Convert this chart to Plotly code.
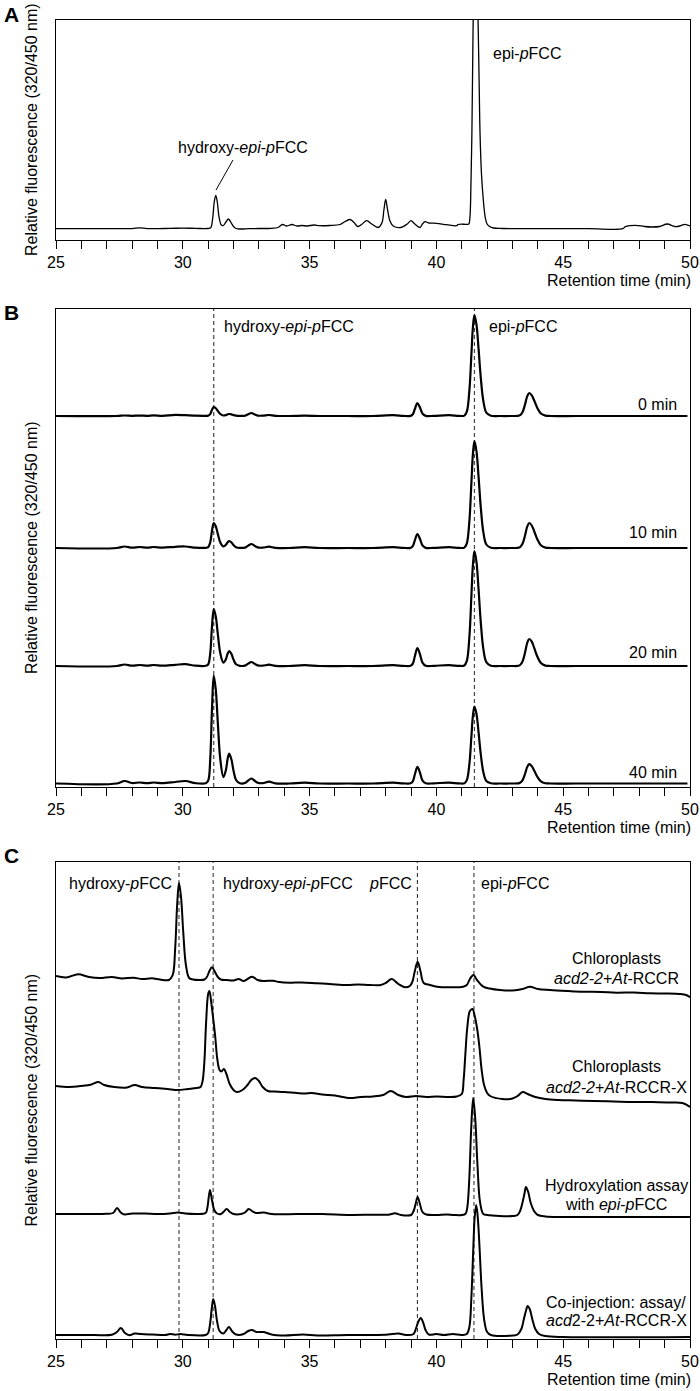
import plotly.graph_objects as go

# ---------------- DATA ----------------
# Panel A: single chromatogram, (retention time [min], relative fluorescence)
A_points = [
    (25.0, 11.3), (26.0, 11.3), (27.0, 11.4), (28.0, 11.4), (28.3, 12.2), (28.6, 11.4),
    (29.5, 11.6), (30.0, 11.9), (30.5, 11.6), (31.0, 11.5), (31.1, 12.3), (31.18, 22),
    (31.24, 38), (31.3, 44.5), (31.36, 38), (31.43, 23), (31.52, 15), (31.6, 14.5),
    (31.7, 18), (31.8, 21), (31.9, 17.5), (32.0, 13.5), (32.1, 11.5), (32.3, 11.0),
    (32.6, 11.4), (33.0, 11.5), (33.5, 11.7), (33.75, 12.5), (33.93, 15.5), (34.1, 14),
    (34.3, 15.5), (34.5, 14), (34.7, 14.5), (34.9, 14), (35.17, 15), (35.4, 14.3),
    (35.8, 14.5), (36.2, 15.5), (36.4, 18.5), (36.6, 20.5), (36.75, 17.5), (36.9, 13.5),
    (37.05, 15.5), (37.25, 19.3), (37.45, 16), (37.7, 12.5), (37.85, 17), (37.93, 30),
    (38.0, 40.5), (38.07, 31), (38.17, 19), (38.3, 14), (38.6, 12.5), (38.85, 16),
    (39.0, 19.3), (39.15, 16), (39.35, 12.5), (39.45, 16), (39.55, 18.3), (39.7, 17),
    (40.0, 16.7), (40.4, 15.3), (40.8, 14.3), (40.85, 15.5), (41.2, 15.7), (41.28, 16),
    (41.32, 22), (41.35, 40), (41.4, 107), (41.45, 220), (41.5, 290), (41.56, 310),
    (41.6, 270), (41.65, 210), (41.69, 150), (41.72, 107), (41.78, 65), (41.85, 40),
    (41.93, 22), (42.0, 16), (42.1, 13.5), (42.25, 12), (42.6, 11.5), (44.0, 11.3),
    (46.0, 11.3), (47.35, 11.3), (47.45, 13.3), (47.85, 14.7), (48.2, 13.5), (48.5, 13.0),
    (48.8, 13.5), (49.1, 16), (49.4, 13.5), (49.6, 14), (49.8, 15.7), (50.0, 14),
]

# Panel B: four time points sampled on a shared retention-time grid
B_time = [
    25.0, 27.4, 27.7, 28.0, 28.3, 28.6, 28.85, 29.2, 29.7, 30.1,
    30.5, 30.9, 31.0, 31.08, 31.15, 31.22, 31.3, 31.38, 31.48, 31.6,
    31.7, 31.77, 31.83, 31.92, 32.0, 32.1, 32.25, 32.45, 32.58, 32.7,
    32.82, 32.95, 33.15, 33.4, 33.65, 34.2, 34.8, 35.4, 36.5, 37.5,
    38.3, 38.7, 38.98, 39.07, 39.15, 39.25, 39.35, 39.45, 39.58, 39.9,
    40.5, 40.9, 41.1, 41.2, 41.3, 41.38, 41.44, 41.5, 41.58, 41.66,
    41.75, 41.85, 41.97, 42.15, 42.5, 43.0, 43.2, 43.3, 43.4, 43.5,
    43.58, 43.66, 43.76, 43.86, 43.98, 44.12, 44.3, 44.5, 45.5, 47.0,
    48.5, 49.9,
]
B_0min = [
    0, 0, 0.5, 0.2, 0.4, 0.2, 0.6, 0.2, 1.2, 0.8,
    0.3, 0.2, 0.4, 1.9, 6.1, 9, 7.8, 5.1, 2.0, 0.5,
    0.9, 1.7, 2, 1.6, 0.85, 0.3, 0.1, 0.3, 1.8, 3,
    1.8, 0.45, 0.3, 1.0, 0.2, 0, 0.3, 0, 0, 0,
    0.8, 0.1, 0.15, 1.75, 7.0, 13, 8.6, 2.5, 0.15, 0.2,
    0.8, 0.1, 0.4, 4.4, 25.3, 61.6, 88.9, 101, 91.5, 68.1,
    38.4, 15.2, 3.3, 0.2, 0, 0, 0.1, 0.85, 4.1, 12.0,
    19.6, 23, 20.7, 15.2, 8.1, 2.5, 0.35, 0, 0, 0,
    0, 0,
]
B_10min = [
    0, 0, 1.5, 0.3, 1.0, 0.3, 1.0, 0.3, 1.2, 1.5,
    0.3, 0.2, 0.8, 5.4, 17, 25, 21.8, 14.1, 5.5, 1.5,
    3.2, 5.8, 7, 5.5, 3.0, 0.8, 0.1, 0.4, 2.4, 4,
    2.4, 0.6, 0.3, 1.3, 0.2, 0, 0.8, 0, 0, 0,
    0.8, 0.1, 0.15, 1.9, 7.6, 14, 9.2, 2.7, 0.15, 0.2,
    0.8, 0.1, 0.4, 4.7, 26.8, 65.3, 94.2, 107, 96.9, 72.1,
    40.7, 16.1, 3.5, 0.2, 0, 0, 0.1, 0.9, 4.4, 13.0,
    21.3, 25, 22.5, 16.5, 8.75, 2.75, 0.4, 0, 0, 0,
    0, 0,
]
B_20min = [
    0, 0, 1.5, 0.3, 1.0, 0.3, 1.0, 0.3, 1.2, 1.8,
    0.3, 0.2, 1.5, 12.3, 38.8, 57, 49.6, 32.2, 12.5, 3.3,
    6.8, 12.5, 15, 11.9, 6.4, 1.7, 0.2, 0.4, 2.4, 4,
    2.4, 0.6, 0.3, 1.3, 0.2, 0, 0.8, 0, 0, 0,
    0.8, 0.1, 0.2, 2.4, 9.7, 18, 11.9, 3.4, 0.2, 0.2,
    0.8, 0.1, 0.5, 5.1, 28.8, 70.2, 101.2, 115, 104.2, 77.5,
    43.7, 17.3, 3.8, 0.2, 0, 0, 0.1, 1.0, 4.8, 14.0,
    23.0, 27, 24.3, 17.8, 9.45, 3.0, 0.4, 0, 0, 0,
    0, 0,
]
B_40min = [
    0, 0, 2.5, 0.5, 1.0, 0.3, 1.0, 0.3, 1.5, 2.5,
    0.3, 0.2, 2.7, 23.3, 73.4, 108, 94, 61, 23.8, 6.4,
    13.5, 25, 30, 23.7, 12.8, 3.5, 0.3, 0.5, 3, 5,
    3, 0.75, 0.3, 1.8, 0.2, 0, 0.8, 0, 0, 0,
    0.8, 0.1, 0.2, 2.2, 9.0, 16.7, 11, 3.2, 0.2, 0.2,
    0.8, 0.1, 0.3, 3.4, 19.3, 47, 67.8, 77, 69.8, 51.9,
    29.3, 11.6, 2.5, 0.2, 0, 0, 0.1, 0.7, 3.4, 10.0,
    16.4, 19.3, 17.4, 12.7, 6.75, 2.1, 0.3, 0, 0, 0,
    0, 0,
]
B_labels = ["0 min", "10 min", "20 min", "40 min"]
B_stack_offsets = [371, 239, 121, 3.5]

# Panel C: four chromatograms, values already include the stacking offset
C1_points = [  # Chloroplasts acd2-2+At-RCCR
    (25.0, 361), (25.4, 359.5), (25.87, 362.7), (26.3, 360), (26.73, 359), (27.2, 360),
    (27.6, 358.5), (28.05, 359.3), (28.4, 358), (28.78, 358.7), (29.1, 357.5), (29.45, 357),
    (29.6, 361.8), (29.7, 389), (29.78, 433.5), (29.85, 454), (29.93, 440), (30.02, 404),
    (30.12, 372.5), (30.25, 359), (30.4, 357.5), (30.68, 357), (30.85, 357.5), (30.95, 360),
    (31.05, 366), (31.15, 369.7), (31.25, 366), (31.38, 360), (31.5, 357.5), (31.73, 357),
    (32.0, 356.5), (32.2, 358), (32.4, 356), (32.73, 360.3), (32.95, 357), (33.17, 356),
    (33.56, 356.3), (33.8, 355), (34.23, 354.3), (34.7, 354.5), (35.28, 353.7), (35.8, 353),
    (36.47, 352), (36.9, 352.5), (37.38, 352), (37.8, 352), (38.0, 354), (38.24, 358),
    (38.5, 353), (38.76, 349.7), (38.95, 351), (39.05, 355), (39.15, 366), (39.26, 375.3),
    (39.37, 366), (39.5, 354), (39.75, 352), (40.1, 350), (40.54, 349.7), (41.06, 350.3),
    (41.2, 352), (41.32, 358), (41.46, 362), (41.6, 357), (41.85, 350.3), (42.1, 348.5),
    (42.5, 347), (43.0, 346.5), (43.4, 348), (43.69, 350.3), (44.0, 348), (44.48, 347),
    (45.2, 346), (45.8, 345.3), (46.5, 345), (47.1, 344.3), (47.8, 344.5), (48.42, 343.7),
    (49.0, 343.5), (49.6, 343), (49.85, 342), (50.0, 339.7),
]
C2_points = [  # Chloroplasts acd2-2+At-RCCR-X
    (25.0, 251), (25.5, 250), (26.0, 251), (26.4, 252.5), (26.67, 255), (26.9, 252),
    (27.3, 250), (27.8, 249.5), (28.1, 252), (28.4, 250), (28.9, 249), (29.4, 248),
    (29.8, 247), (30.2, 248), (30.55, 249), (30.7, 250), (30.78, 256), (30.85, 275),
    (30.92, 315), (31.0, 343), (31.05, 346), (31.12, 335), (31.2, 318), (31.28, 300),
    (31.36, 278), (31.45, 267), (31.52, 265.5), (31.62, 268), (31.72, 263), (31.85, 253),
    (32.0, 247), (32.12, 245), (32.35, 247), (32.55, 252), (32.7, 257), (32.85, 259),
    (33.0, 256), (33.15, 250), (33.35, 246), (33.6, 245.5), (34.0, 245), (34.49, 244),
    (34.8, 243.5), (35.08, 244), (35.5, 242.5), (36.0, 241.5), (36.6, 239), (37.0, 240),
    (37.5, 240.5), (37.9, 242), (38.2, 246), (38.5, 242), (38.8, 240), (39.2, 241),
    (39.6, 240), (40.0, 240.5), (40.5, 240), (40.8, 240.5), (41.0, 243), (41.07, 256),
    (41.14, 282), (41.22, 310), (41.32, 326), (41.42, 328), (41.52, 320), (41.62, 306),
    (41.7, 289), (41.78, 268), (41.88, 252), (42.0, 244), (42.12, 241), (42.6, 238),
    (43.0, 238.5), (43.2, 241), (43.4, 245), (43.6, 243), (43.9, 240), (44.3, 238),
    (44.8, 237), (45.5, 236.5), (46.2, 236), (47.0, 235.5), (47.8, 235), (48.5, 235),
    (49.2, 234.5), (49.7, 234), (50.0, 230),
]
C3_points = [  # Hydroxylation assay with epi-pFCC
    (25.0, 123), (26.0, 123), (27.0, 123.2), (27.25, 124), (27.41, 129), (27.55, 124.5),
    (27.7, 122.5), (28.0, 123.5), (28.5, 123.5), (29.0, 123), (29.5, 123.5), (29.8, 124.5),
    (30.1, 123.5), (30.5, 123), (30.85, 123.5), (30.92, 124.5), (30.98, 131), (31.07, 147),
    (31.15, 137), (31.24, 127), (31.35, 123.5), (31.5, 123), (31.6, 125), (31.73, 128),
    (31.86, 125), (32.0, 123), (32.3, 123), (32.45, 124.5), (32.6, 128), (32.75, 125.5),
    (32.9, 124), (33.2, 124.5), (33.5, 123), (34.5, 123), (35.5, 123), (36.6, 122),
    (37.5, 122.3), (38.1, 122.3), (38.37, 123.7), (38.6, 122), (39.0, 122), (39.1, 126),
    (39.18, 133), (39.26, 140), (39.35, 133), (39.45, 125), (39.6, 122.5), (40.0, 122),
    (40.4, 122.5), (40.7, 122), (41.0, 122), (41.15, 123.3), (41.22, 130), (41.3, 160),
    (41.37, 207), (41.45, 239), (41.53, 219), (41.62, 172), (41.72, 135), (41.85, 123),
    (42.0, 122), (42.5, 121), (43.0, 121), (43.2, 122), (43.3, 126), (43.4, 135),
    (43.47, 143), (43.53, 150), (43.62, 145), (43.72, 134), (43.85, 126), (44.0, 122),
    (44.3, 120.5), (45.0, 120), (47.0, 120), (50.0, 120),
]
C4_points = [  # Co-injection: assay / acd2-2+At-RCCR-X
    (25.0, 2), (26.5, 2), (27.2, 2.3), (27.4, 5), (27.56, 9), (27.72, 4), (27.9, 1.8),
    (28.1, 3.5), (28.35, 3), (28.8, 2.5), (29.3, 2), (29.5, 3), (29.7, 2.3), (29.9, 3),
    (30.2, 2), (30.9, 2), (31.0, 4), (31.08, 14), (31.14, 28), (31.2, 38), (31.27, 31),
    (31.35, 16), (31.45, 6), (31.6, 3.5), (31.72, 7), (31.82, 10), (31.95, 5.5), (32.1, 2.5),
    (32.4, 3), (32.58, 6), (32.73, 7), (32.9, 5), (33.2, 5), (33.5, 2.5), (34.0, 1.5),
    (34.75, 2.5), (35.3, 1.5), (36.5, 2), (37.5, 2), (38.1, 2.5), (38.5, 3.5), (38.8, 2),
    (39.1, 3), (39.2, 9), (39.3, 16), (39.38, 19), (39.47, 15), (39.57, 7), (39.7, 2.5),
    (40.0, 3), (40.3, 2), (40.65, 3), (41.0, 2), (41.2, 3), (41.3, 10), (41.38, 40),
    (41.45, 85), (41.51, 120), (41.57, 132), (41.63, 120), (41.7, 90), (41.78, 50),
    (41.88, 18), (42.0, 5), (42.15, 2), (43.0, 1.5), (43.2, 2.5), (43.35, 8), (43.45, 18),
    (43.53, 26), (43.6, 31), (43.68, 28), (43.78, 18), (43.9, 8), (44.05, 3), (44.3, 1),
    (45.0, 0), (50.0, 0),
]
C_labels = [
    ("Chloroplasts", "<i>acd2-2</i>+<i>At</i>-RCCR"),
    ("Chloroplasts", "<i>acd2-2</i>+<i>At</i>-RCCR-X"),
    ("Hydroxylation assay", "with <i>epi</i>-<i>p</i>FCC"),
    ("Co-injection: assay/", "<i>acd</i>2-2+<i>At</i>-RCCR-X"),
]

# marker lines (retention times of reference compounds)
B_markers = [31.22, 41.5]
C_markers = [29.85, 31.2, 39.25, 41.48]

x_ticks = list(range(25, 51))
x_ticktext = [str(v) if v % 5 == 0 else "" for v in x_ticks]

assert all(len(v) == len(B_time) for v in (B_0min, B_10min, B_20min, B_40min))

# ---------------- LAYOUT HELPERS ----------------
W, H = 700, 1391
XL, XR = 56, 690
PANELS = {"A": (20, 240), "B": (309, 787), "C": (862, 1339)}
FONT = "Liberation Sans, Arial, sans-serif"


def py(ypx):
    return 1 - ypx / H


def pxx(xpx):
    return xpx / W


fig = go.Figure()

# Panel A trace
ta, va = zip(*A_points)
fig.add_trace(go.Scatter(x=ta, y=va, mode="lines", xaxis="x", yaxis="y",
                         line=dict(color="black", width=1.3, shape="spline", smoothing=1.0),
                         hoverinfo="skip"))

# Panel B traces
for vals, off in zip((B_0min, B_10min, B_20min, B_40min), B_stack_offsets):
    fig.add_trace(go.Scatter(x=B_time, y=[v + off for v in vals], mode="lines",
                             xaxis="x2", yaxis="y2",
                             line=dict(color="black", width=2.2, shape="spline", smoothing=1.0),
                             hoverinfo="skip"))

# Panel C traces
for pts in (C1_points, C2_points, C3_points, C4_points):
    t, v = zip(*pts)
    fig.add_trace(go.Scatter(x=t, y=v, mode="lines", xaxis="x3", yaxis="y3",
                             line=dict(color="black", width=2.0, shape="spline", smoothing=1.0),
                             hoverinfo="skip"))

xcommon = dict(range=[25, 50], tickmode="array", tickvals=x_ticks, ticktext=x_ticktext,
               ticks="outside", ticklen=8, tickwidth=1, tickcolor="black",
               showline=True, linecolor="black", linewidth=1, mirror=True,
               showgrid=False, zeroline=False, tickfont=dict(size=16, family=FONT, color="black"),
               domain=[pxx(XL), pxx(XR)], automargin=False)
ycommon = dict(showline=True, linecolor="black", linewidth=1, mirror=True,
               showticklabels=False, ticks="", showgrid=False, zeroline=False, automargin=False)

fig.update_layout(
    width=W, height=H, margin=dict(l=0, r=0, t=0, b=0, pad=0), autosize=False,
    plot_bgcolor="white", paper_bgcolor="white", showlegend=False,
    font=dict(family=FONT, size=16, color="black"),
    xaxis=dict(**xcommon, anchor="y"),
    xaxis2=dict(**xcommon, anchor="y2"),
    xaxis3=dict(**xcommon, anchor="y3"),
    yaxis=dict(**ycommon, anchor="x", range=[0, 220],
               domain=[py(PANELS["A"][1]), py(PANELS["A"][0])]),
    yaxis2=dict(**ycommon, anchor="x2", range=[0, 478],
                domain=[py(PANELS["B"][1]), py(PANELS["B"][0])]),
    yaxis3=dict(**ycommon, anchor="x3", range=[-2, 475],
                domain=[py(PANELS["C"][1]), py(PANELS["C"][0])]),
)

shapes = []
for xm in B_markers:
    shapes.append(dict(type="line", xref="x2", yref="y2 domain", x0=xm, x1=xm, y0=0, y1=1,
                       line=dict(color="#444444", width=1.2, dash="4px,3px"), layer="below"))
C_marker_styles = [("#222222", 1.0), ("#777777", 1.6), ("#222222", 1.0), ("#777777", 1.6)]
for xm, (col, wd) in zip(C_markers, C_marker_styles):
    shapes.append(dict(type="line", xref="x3", yref="y3 domain", x0=xm, x1=xm, y0=0, y1=1,
                       line=dict(color=col, width=wd, dash="4px,3px"), layer="below"))
# leader line for the hydroxy-epi-pFCC label in panel A
shapes.append(dict(type="line", xref="paper", yref="paper",
                   x0=pxx(216), y0=py(190), x1=pxx(233), y1=py(160),
                   line=dict(color="black", width=1)))
fig.update_layout(shapes=shapes)

ann = []


def add(text, x, y, xanchor="left", size=16, angle=0, yanchor="middle"):
    ann.append(dict(text=text, x=pxx(x), y=py(y), xref="paper", yref="paper",
                    xanchor=xanchor, yanchor=yanchor, showarrow=False, textangle=angle,
                    borderpad=0, font=dict(size=size, family=FONT, color="black")))


# panel letters
add("<b>A</b>", 3, 14, size=21)
add("<b>B</b>", 3, 312, size=21)
add("<b>C</b>", 3, 855, size=21)

# y-axis titles
for key in "ABC":
    top, bot = PANELS[key]
    add("Relative fluorescence (320/450 nm)", 31, (top + bot) / 2, xanchor="center", angle=-90)
# x-axis titles
for key in "ABC":
    add("Retention time (min)", 692, PANELS[key][1] + 40, xanchor="right")

# panel A labels
add("hydroxy-<i>epi</i>-<i>p</i>FCC", 243, 148, xanchor="center")
add("epi-<i>p</i>FCC", 492, 53)

# panel B labels
add("hydroxy-<i>epi</i>-<i>p</i>FCC", 223, 327)
add("epi-<i>p</i>FCC", 488, 327)
for lab, y in zip(B_labels, [405, 533, 652, 772]):
    add(lab, 678, y, xanchor="right")

# panel C labels
add("hydroxy-<i>p</i>FCC", 173, 883, xanchor="right")
add("hydroxy-<i>epi</i>-<i>p</i>FCC", 222, 883)
add("<i>p</i>FCC", 413, 883, xanchor="right")
add("epi-<i>p</i>FCC", 480, 883)
for (l1, l2), (y1, y2) in zip(C_labels, [(958, 978), (1066, 1087), (1185, 1204), (1302, 1320)]):
    add(l1, 616, y1, xanchor="center")
    add(l2, 616, y2, xanchor="center")

fig.update_layout(annotations=ann)
fig.write_html(
    "out.html",
    config={"responsive": False, "displayModeBar": False},
    post_script="document.documentElement.style.margin='0';document.body.style.margin='0';"
                "document.documentElement.style.overflow='hidden';document.body.style.overflow='hidden';",
)
